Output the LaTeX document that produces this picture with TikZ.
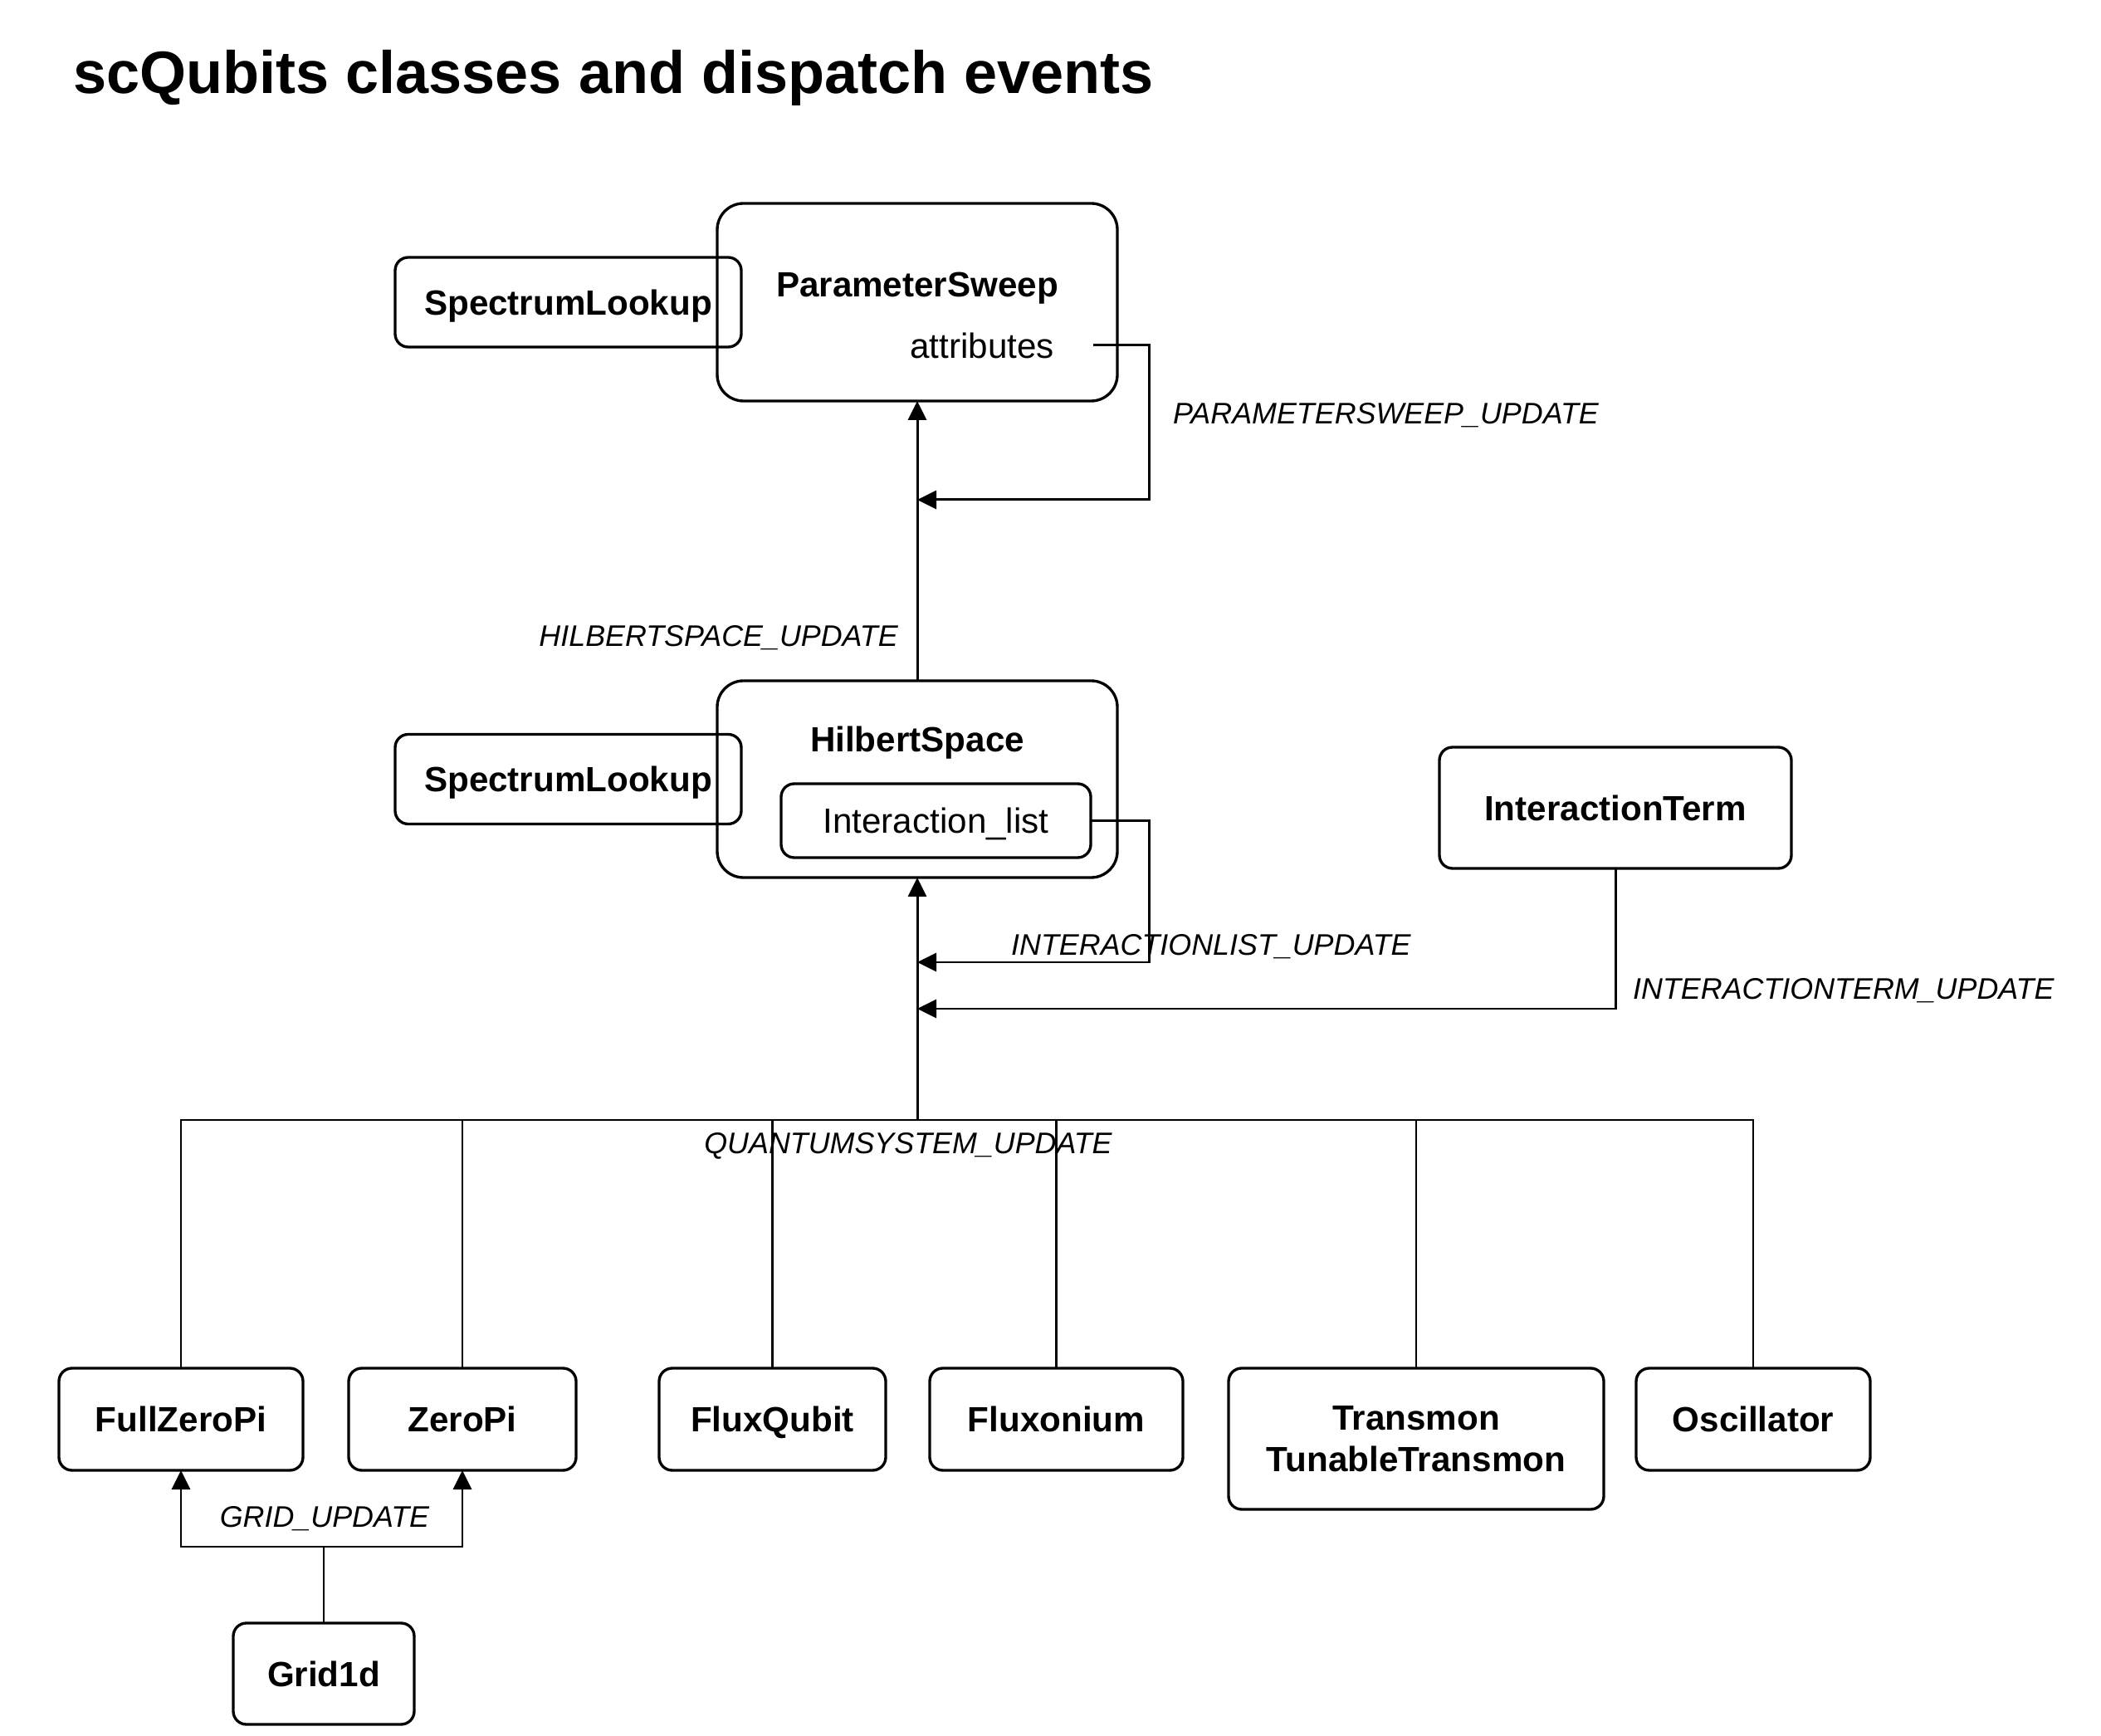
\documentclass[tikz,border=0pt]{standalone}
\usepackage{fontspec}
\setmainfont{Liberation Sans}
\usetikzlibrary{positioning,arrows.meta}

\begin{document}
\begin{tikzpicture}[
    classbox/.style={
        draw,
        line width=0.95pt,
        rounded corners=4.5pt,
        align=center,
        minimum height=1.23cm,
        font=\fontsize{12}{14.2}\selectfont\bfseries,
        inner sep=2pt,
        outer sep=0pt
    },
    oneline/.style={text height=0.87em, text depth=0pt},
    ownerbox/.style={
        draw,
        line width=0.95pt,
        rounded corners=9pt,
        minimum width=4.82cm,
        minimum height=2.37cm,
        outer sep=0pt
    },
    evlabel/.style={font=\fontsize{10.2}{12}\selectfont\itshape, inner sep=1pt},
    arrow/.style={-{Triangle[length=2.3mm,width=2.2mm]}, line width=0.85pt},
    wire/.style={line width=0.8pt}
]
\useasboundingbox (0,0) rectangle (25.31,-20.91);

\node[anchor=base west, font=\fontsize{20.5}{24}\selectfont\bfseries] (title) at (0.76,-1.13) {scQubits classes and dispatch events};

% owners
\node[ownerbox, minimum height=2.38cm] (psweep) at (11.05,-3.64) {};
\node[ownerbox, below=3.37cm of psweep] (hspace) {};
\node[classbox, oneline, minimum width=4.17cm, minimum height=1.08cm, left=-0.29cm of psweep] (lookupps) {SpectrumLookup};
\node[classbox, oneline, minimum width=4.17cm, minimum height=1.08cm, left=-0.29cm of hspace] (lookuphs) {SpectrumLookup};
\node[font=\fontsize{12}{14.2}\selectfont\bfseries] (pstitle) at ([yshift=-1.02cm]psweep.north) {ParameterSweep};
\node[font=\fontsize{12}{14.2}\selectfont, inner xsep=0.47cm] (psattr) at ([xshift=0.78cm,yshift=-0.52cm]psweep.center) {attributes};
\node[font=\fontsize{12}{14.2}\selectfont\bfseries] (hstitle) at ([yshift=-0.75cm]hspace.north) {HilbertSpace};
\node[classbox, oneline, font=\fontsize{12}{14.2}\selectfont, minimum width=3.73cm, minimum height=0.89cm] (ilist) at ([xshift=0.225cm,yshift=-0.50cm]hspace.center) {Interaction\_list};
\node[classbox, oneline, minimum width=4.24cm, minimum height=1.46cm, right=3.88cm of hspace, yshift=-0.345cm] (iterm) {InteractionTerm};

% quantum systems
\node[classbox, oneline, minimum width=2.94cm] (fzp) at (2.18,-17.095) {FullZeroPi};
\node[classbox, oneline, minimum width=2.74cm, right=0.55cm of fzp] (zp) {ZeroPi};
\node[classbox, oneline, minimum width=2.73cm, right=1.00cm of zp] (fq) {FluxQubit};
\node[classbox, oneline, minimum width=3.05cm, right=0.53cm of fq] (fxn) {Fluxonium};
\node[classbox, minimum width=4.52cm, minimum height=1.70cm, right=0.55cm of fxn.north east, anchor=north west] (trans) {Transmon\\TunableTransmon};
\node[classbox, oneline, minimum width=2.82cm, right=0.39cm of trans.north east, anchor=north west] (osc) {Oscillator};
\node[classbox, oneline, minimum width=2.18cm, minimum height=1.22cm, below=1.84cm of fzp, xshift=1.72cm] (grid) {Grid1d};

\coordinate (psjoin) at ([yshift=-1.19cm]psweep.south);
\coordinate (psturn) at ([xshift=2.79cm]psjoin);
\coordinate (iljoin) at ([yshift=-1.02cm]hspace.south);
\coordinate (ilturn) at ([xshift=2.79cm]iljoin);
\coordinate (itjoin) at ([yshift=-1.58cm]hspace.south);
\coordinate (bus) at ([yshift=-2.92cm]hspace.south);
\coordinate (gridjoin) at ([yshift=0.92cm]grid.north);

\draw[arrow] (hspace.north) -- (psweep.south);
\draw[arrow] (psattr.east) -| (psturn) -- (psjoin);
\draw[arrow] (ilist.east) -| (ilturn) -- (iljoin);
\draw[arrow] (iterm.south) |- (itjoin);
\draw[arrow] (bus) -- (hspace.south);
\foreach \q in {fzp,zp,fq,fxn,trans,osc}
    \draw[wire] (\q.north) |- (bus);
\draw[arrow] (grid.north) -- (gridjoin) -| (fzp.south);
\draw[arrow] (gridjoin) -| (zp.south);

% dispatch events
\node[evlabel, anchor=west] (psupd) at (14.09,-5.00) {PARAMETERSWEEP\_UPDATE};
\node[evlabel, anchor=east] (hsupd) at (10.86,-7.68) {HILBERTSPACE\_UPDATE};
\node[evlabel, anchor=west] (ilupd) at (12.14,-11.40) {INTERACTIONLIST\_UPDATE};
\node[evlabel, anchor=west] (itupd) at (19.63,-11.93) {INTERACTIONTERM\_UPDATE};
\node[evlabel] (qsupd) at (10.94,-13.80) {QUANTUMSYSTEM\_UPDATE};
\node[evlabel] (gridupd) at (3.91,-18.29) {GRID\_UPDATE};
\end{tikzpicture}
\end{document}
